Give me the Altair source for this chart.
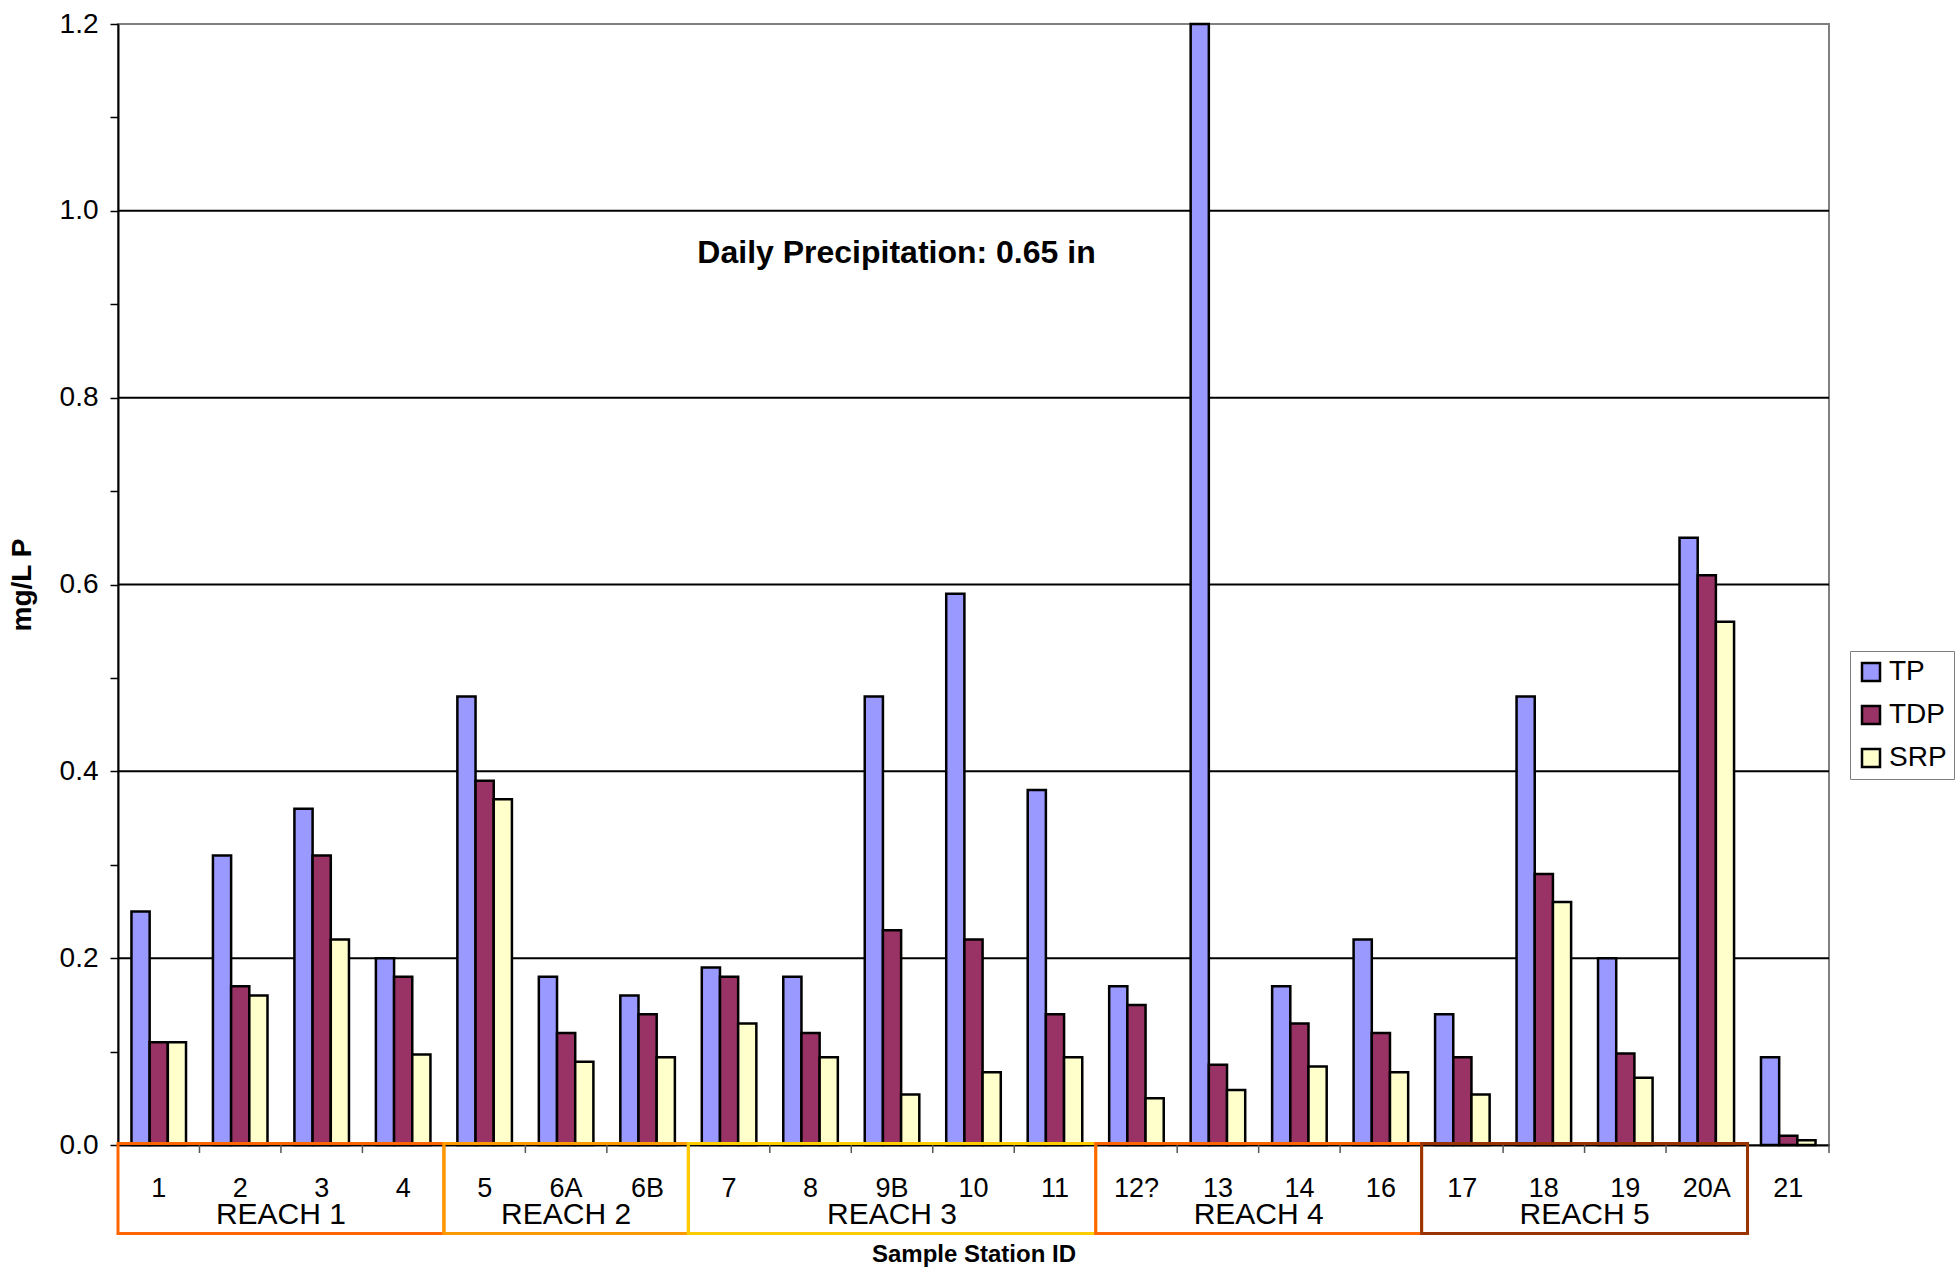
import altair as alt
import pandas as pd

# ---- data -------------------------------------------------------------
stations = ["1", "2", "3", "4", "5", "6A", "6B", "7", "8", "9B", "10", "11",
            "12?", "13", "14", "16", "17", "18", "19", "20A", "21"]
tp = [0.25, 0.31, 0.36, 0.20, 0.48, 0.18, 0.16, 0.19, 0.18, 0.48, 0.59, 0.38,
      0.17, 1.20, 0.17, 0.22, 0.14, 0.48, 0.20, 0.65, 0.094]
tdp = [0.11, 0.17, 0.31, 0.18, 0.39, 0.12, 0.14, 0.18, 0.12, 0.23, 0.22, 0.14,
       0.15, 0.086, 0.13, 0.12, 0.094, 0.29, 0.098, 0.61, 0.010]
srp = [0.11, 0.16, 0.22, 0.097, 0.37, 0.089, 0.094, 0.13, 0.094, 0.054, 0.078, 0.094,
       0.050, 0.059, 0.084, 0.078, 0.054, 0.26, 0.072, 0.56, 0.005]

series = ["TP", "TDP", "SRP"]
series_colors = ["#9999FF", "#993366", "#FFFFCC"]

reach_names = ["REACH 1", "REACH 2", "REACH 3", "REACH 4", "REACH 5"]
reach_first = ["1", "5", "7", "12?", "17"]
reach_last = ["4", "6B", "11", "16", "20A"]
reach_colors = ["#FF6600", "#FF9900", "#FFCC00", "#FF6600", "#993300"]

grid_values = [0.2, 0.4, 0.6, 0.8, 1.0]
y_tick_values = [0.0, 0.1, 0.2, 0.3, 0.4, 0.5, 0.6, 0.7, 0.8, 0.9, 1.0, 1.1, 1.2]

annotation = "Daily Precipitation: 0.65 in"

# ---- tables -----------------------------------------------------------
rows = []
for name, vals in zip(series, [tp, tdp, srp]):
    for st, v in zip(stations, vals):
        rows.append({"station": st, "series": name, "value": v})
bars_df = pd.DataFrame(rows)

reach_df = pd.DataFrame({
    "name": reach_names,
    "start": [stations.index(s) for s in reach_first],
    "end": [stations.index(s) + 1 for s in reach_last],
})
reach_df["mid"] = (reach_df["start"] + reach_df["end"]) / 2

tick_df = pd.DataFrame({"pos": list(range(1, len(stations) + 1))})
grid_df = pd.DataFrame({"g": grid_values})
note_df = pd.DataFrame({"t": [annotation]})

# ---- geometry ---------------------------------------------------------
W, H = 1711, 1121
FONT = "Liberation Sans"

yscale = alt.Scale(domain=[0, 1.2], nice=False, zero=True)
idx_scale = alt.Scale(domain=[0, len(stations)], nice=False, zero=False)

grid = alt.Chart(grid_df).mark_rule(color="black", strokeWidth=2).encode(
    y=alt.Y("g:Q", scale=yscale),
    x=alt.value(0),
    x2=alt.value(W),
)

bars = alt.Chart(bars_df).mark_bar(stroke="black", strokeWidth=2.5, opacity=1).encode(
    x=alt.X(
        "station:N",
        sort=stations,
        scale=alt.Scale(domain=stations, paddingInner=0, paddingOuter=0),
        axis=alt.Axis(
            title="Sample Station ID",
            labelAngle=0,
            ticks=False,
            tickSize=0,
            labelPadding=43,
            labelBaseline="middle",
            labelFontSize=27,
            labelColor="black",
            labelOverlap=False,
            domainColor="black",
            domainWidth=2,
            titleFontSize=24,
            titleFontWeight="bold",
            titleColor="black",
            titleY=109,
            titleBaseline="middle",
        ),
    ),
    xOffset=alt.XOffset(
        "series:N",
        sort=series,
        scale=alt.Scale(domain=series, paddingInner=0, paddingOuter=0.74),
    ),
    y=alt.Y(
        "value:Q",
        scale=yscale,
        axis=alt.Axis(
            title="mg/L P",
            values=y_tick_values,
            labelExpr="round(datum.value * 10) % 2 == 0 ? format(datum.value, '.1f') : ''",
            grid=False,
            tickSize=8,
            tickColor="black",
            tickWidth=1.5,
            domainColor="black",
            domainWidth=2,
            labelFontSize=28,
            labelColor="black",
            labelPadding=12,
            labelOverlap=False,
            titleFontSize=28,
            titleFontWeight="bold",
            titleColor="black",
            titleAngle=270,
            titleX=-96,
            titleY=H / 2,
            titleAlign="center",
            titleBaseline="middle",
        ),
    ),
    color=alt.Color(
        "series:N",
        sort=series,
        scale=alt.Scale(domain=series, range=series_colors),
        legend=alt.Legend(
            title=None,
            orient="none",
            legendX=1732,
            legendY=627,
            direction="vertical",
            strokeColor="#808080",
            fillColor="white",
            padding=7,
            symbolType="square",
            symbolSize=324,
            symbolStrokeColor="black",
            symbolStrokeWidth=2.5,
            symbolOpacity=1,
            labelFontSize=28,
            labelColor="black",
            labelOffset=4,
            rowPadding=15,
        ),
    ),
)

ticks = alt.Chart(tick_df).mark_rule(color="#555555", strokeWidth=1.5).encode(
    x=alt.X("pos:Q", scale=idx_scale, axis=None),
    y=alt.value(H),
    y2=alt.value(H + 8),
)

boxes = alt.Chart(reach_df).mark_rect(fillOpacity=0, strokeWidth=3).encode(
    x=alt.X("start:Q", scale=idx_scale, axis=None),
    x2="end:Q",
    y=alt.value(H - 1.5),
    y2=alt.value(H + 88.5),
    stroke=alt.Stroke(
        "name:N",
        sort=reach_names,
        scale=alt.Scale(domain=reach_names, range=reach_colors),
        legend=None,
    ),
)

reach_labels = alt.Chart(reach_df).mark_text(
    fontSize=30, color="black", align="center", baseline="middle"
).encode(
    x=alt.X("mid:Q", scale=idx_scale, axis=None),
    y=alt.value(H + 69.5),
    text="name:N",
)

note = alt.Chart(note_df).mark_text(
    fontSize=32, fontWeight="bold", color="black", align="center", baseline="middle"
).encode(
    x=alt.value(778.5),
    y=alt.value(229),
    text="t:N",
)

chart = (
    alt.layer(grid, bars, ticks, boxes, reach_labels, note)
    .resolve_scale(x="independent")
    .properties(
        width=W,
        height=H,
        padding={"left": 118, "top": 24, "right": 131, "bottom": 124},
        autosize=alt.AutoSizeParams(type="none"),
        background="white",
    )
    .configure(font=FONT)
    .configure_view(stroke="#808080", strokeWidth=2)
)

chart.save("out.html", embed_options={"renderer": "svg", "actions": False})
